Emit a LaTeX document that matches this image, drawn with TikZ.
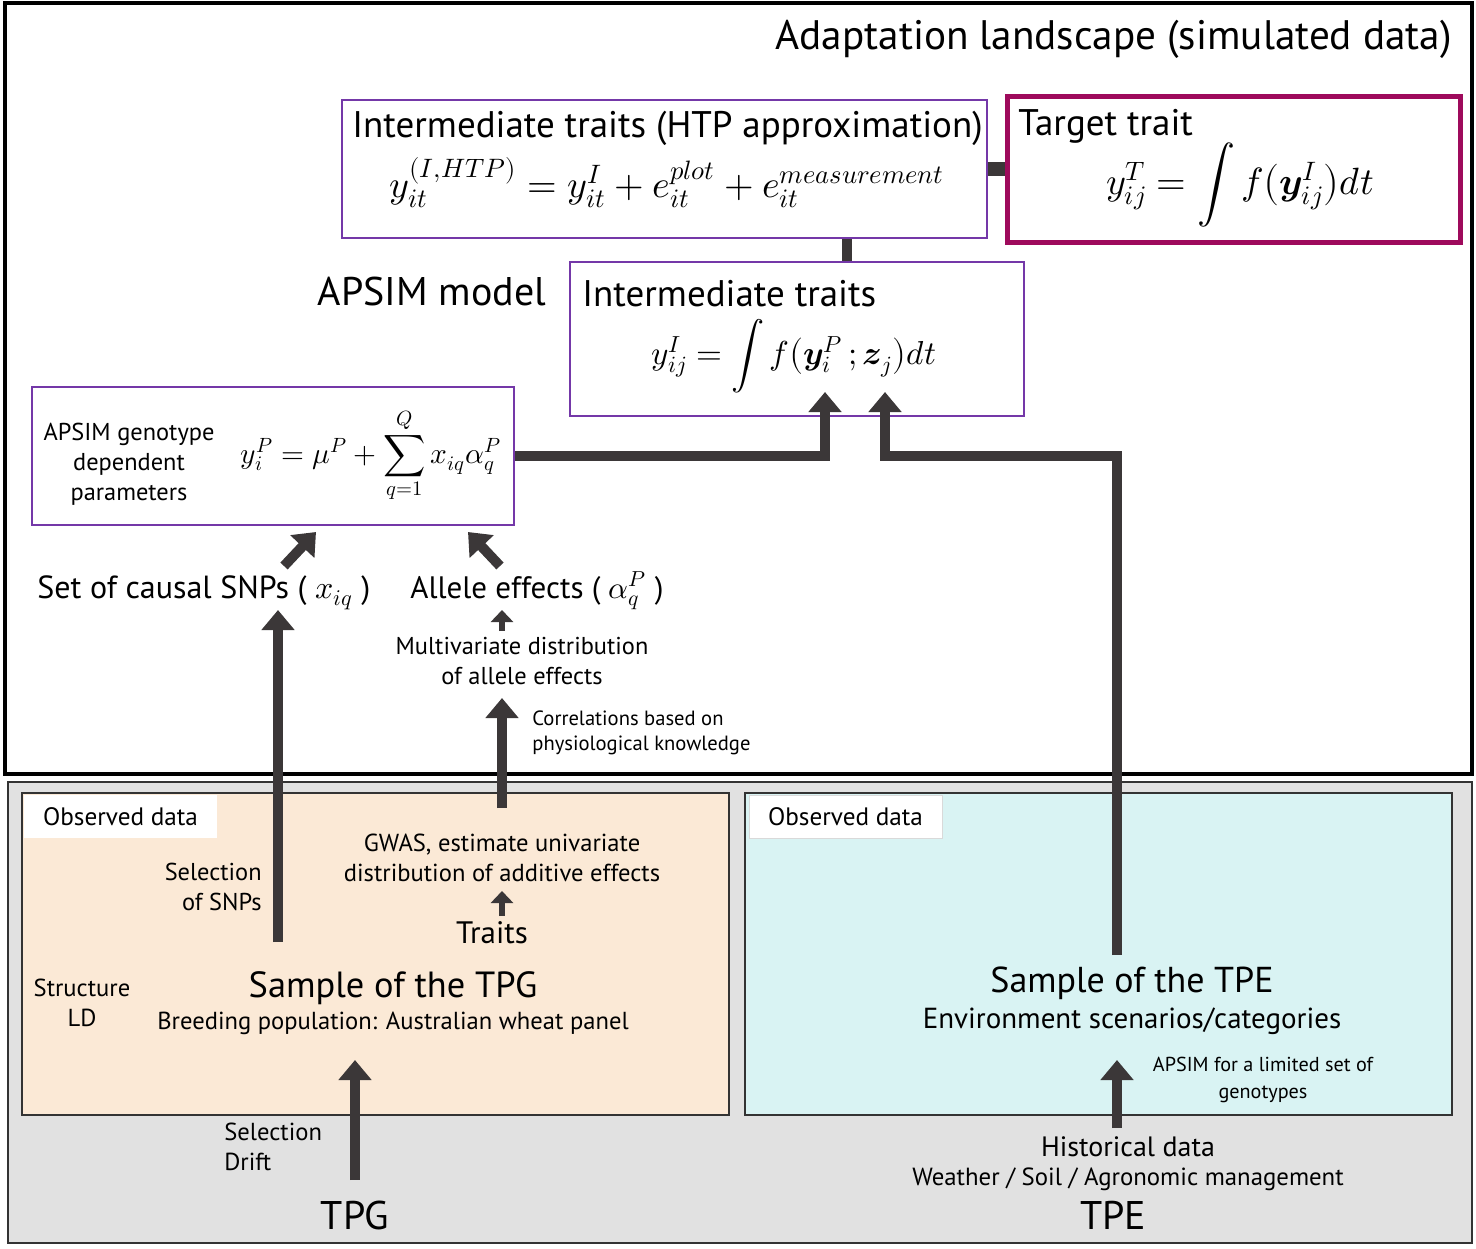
\documentclass[tikz,border=0pt]{standalone}
\usepackage{fontspec}
\usepackage{unicode-math}
\setmainfont{PT Sans}
\setmathfont{Latin Modern Math}
\usetikzlibrary{arrows.meta,fit}
\definecolor{arrowc}{HTML}{3B3738}
\definecolor{boxpurple}{HTML}{7438A8}
\definecolor{targetc}{HTML}{9E0A5C}
\definecolor{beige}{HTML}{FBE9D6}
\definecolor{cyanf}{HTML}{D9F3F3}
\definecolor{grayf}{HTML}{E1E1E1}
\newcommand{\fsz}[1]{\fontsize{#1}{#1}\selectfont}
\tikzset{
  conn/.style={draw=arrowc, line width=5pt},
  bigarrow/.style={conn, -{Triangle[width=16pt,length=10pt]}},
  smallarrow/.style={draw=arrowc, line width=3pt, -{Triangle[width=11pt,length=6pt]}},
  pbox/.style={draw=boxpurple, line width=1pt, inner sep=0pt},
  tbox/.style={draw=targetc, line width=2.5pt, inner sep=0pt},
  databox/.style={draw=black!80, line width=1pt, inner sep=0pt},
  obslabel/.style={fill=white, inner sep=0pt},
  txt/.style={inner sep=0pt, align=center},
}
\begin{document}
\begin{tikzpicture}[x=0.5pt,y=-0.5pt]
\useasboundingbox (0,0) rectangle (1476,1248);
% background regions
\node[fit={(8,782) (1472,1243)}, fill=grayf, draw=black!80, line width=1.2pt, inner sep=0pt] (obsregion) {};
\node[fit={(5,3) (1472,774)}, draw=black, line width=2pt, inner sep=0pt] (simregion) {};
\node[databox, fill=beige, fit={(22,793) (729,1115)}] (tpgbox) {};
\node[databox, fill=cyanf, fit={(745,793) (1452,1115)}] (tpebox) {};
\node[obslabel, fit={(24,795) (217,838)}] (obsl) {};
\node[obslabel, draw=black!15, line width=0.5pt, fit={(749,795) (942,838)}] (obsr) {};
\node[txt, font=\fsz{12.6}] at (obsl.center) {Observed data};
\node[txt, font=\fsz{12.6}] at (obsr.center) {Observed data};
% model boxes
\node[pbox, fill=white, fit={(342,100) (987,238)}] (htp) {};
\node[tbox, fill=white, fit={(1007,96) (1460,242)}] (target) {};
\node[pbox, fill=white, fit={(570,262) (1024,416)}] (interm) {};
\node[pbox, fill=white, fit={(32,387) (514,525)}] (geno) {};
% title
\node[anchor=base east, inner sep=0pt, font=\fsz{20.6}] (title) at (1452,49) {Adaptation landscape (simulated data)};
% texts in boxes
\node[anchor=base west, inner sep=0pt, font=\fsz{18.5}] (htph) at (352,137) {Intermediate traits (HTP approximation)};
\node[txt, font=\fsz{19}] (htpeq) at (667,183) {$y_{it}^{(I,HTP)} = y_{it}^{I} + e_{it}^{plot} + e_{it}^{measurement}$};
\node[anchor=base west, inner sep=0pt, font=\fsz{18.5}] (targeth) at (1018,135) {Target trait};
\node[txt, font=\fsz{19}] (targeteq) at (1240,185) {$\displaystyle y_{ij}^{T} = \int f\big(\symbfit{y}_{ij}^{I}\big)dt$};
\node[anchor=base, inner sep=0pt, font=\fsz{20}] (apsim) at (432,305) {APSIM model};
\node[anchor=base west, inner sep=0pt, font=\fsz{18.5}] (intermh) at (582,306) {Intermediate traits};
\node[txt, font=\fsz{16.6}] (intermeq) at (794,356) {$\displaystyle y_{ij}^{I} = \int f\big(\symbfit{y}_{i}^{P}\,;\symbfit{z}_{j}\big)dt$};
\node[txt, font=\fsz{12.2}, align=center] (genot) at (129,464) {APSIM genotype\\[2.8pt]dependent\\[2.8pt]parameters};
\node[txt, font=\fsz{14.7}] (genoeq) at (371,455) {$\displaystyle y_{i}^{P} = \mu^{P} + \sum_{q=1}^{Q} x_{iq}\alpha_{q}^{P}$};
% simulated inputs
\node[anchor=base west, inner sep=0pt, font=\fsz{16}] (snps) at (37,598) {Set of causal SNPs ( $x_{iq}$ )};
\node[anchor=base west, inner sep=0pt, font=\fsz{15.5}] (allele) at (410,598) {Allele effects ( $\alpha_{q}^{P}$ )};
\node[txt, font=\fsz{12.2}] (multiv) at (522,661) {Multivariate distribution\\[3pt]of allele effects};
\node[txt, font=\fsz{10.3}, align=left, anchor=west] (corr) at (532,733) {Correlations based on\\[2.2pt]physiological knowledge};
% TPG side
\node[txt, font=\fsz{12.2}, align=right, anchor=east] (selsnp) at (262,887) {Selection\\[3pt]of SNPs};
\node[txt, font=\fsz{12.3}] (gwas) at (502,858) {GWAS, estimate univariate\\[3pt]distribution of additive effects};
\node[txt, font=\fsz{15.5}] (traits) at (492,933) {Traits};
\node[txt, font=\fsz{12.3}] (struct) at (82,1003) {Structure\\[2.7pt]LD};
\node[txt, font=\fsz{18.2}] (stpg) at (393,988) {Sample of the TPG};
\node[txt, font=\fsz{12.3}] (breed) at (393,1023) {Breeding population: Australian wheat panel};
\node[txt, font=\fsz{12.3}, align=left, anchor=west] (seldrift) at (224,1147) {Selection\\[2.7pt]Drift};
\node[txt, font=\fsz{20}] (tpg) at (355,1215) {TPG};
% TPE side
\node[txt, font=\fsz{18}] (stpe) at (1132,983) {Sample of the TPE};
\node[txt, font=\fsz{14.5}] (envs) at (1132,1021) {Environment scenarios/categories};
\node[txt, font=\fsz{10.1}] (apsimlim) at (1263,1080) {APSIM for a limited set of\\[3pt]genotypes};
\node[txt, font=\fsz{14}] (hist) at (1128,1147) {Historical data};
\node[txt, font=\fsz{12.4}] (weather) at (1128,1179) {Weather / Soil / Agronomic management};
\node[txt, font=\fsz{20}] (tpe) at (1113,1215) {TPE};
% helper coordinates
\coordinate (c847) at (847,0);
\coordinate (a1) at (825,392);
\coordinate (a2) at (885,392);
\coordinate (tpestart) at (1117,955);
\coordinate (snpstart) at (278,942);
\coordinate (snptip) at (278,610);
\coordinate (alstart) at (502,808);
\coordinate (altip) at (502,698);
\coordinate (mvstart) at (502,631);
\coordinate (mvtip) at (502,610);
\coordinate (trstart) at (502,916);
\coordinate (trtip) at (502,891);
\coordinate (tpgstart) at (355,1180);
\coordinate (tpgtip) at (355,1060);
\coordinate (histstart) at (1117,1128);
\coordinate (histtip) at (1117,1060);
\coordinate (d1s) at (284,566);
\coordinate (d1t) at (316,532);
\coordinate (d2s) at (500,566);
\coordinate (d2t) at (468,532);
% connectors
\draw[draw=arrowc, line width=7pt] (htp.east) -- (target.west);
\draw[conn] (c847 |- htp.south) -- (c847 |- interm.north);
\draw[bigarrow] (geno.east) -| (a1);
\draw[bigarrow] (tpestart) |- (a2 |- geno.east) -- (a2);
\draw[bigarrow] (snpstart) -- (snptip);
\draw[bigarrow] (alstart) -- (altip);
\draw[smallarrow] (mvstart) -- (mvtip);
\draw[smallarrow] (trstart) -- (trtip);
\draw[bigarrow] (tpgstart) -- (tpgtip);
\draw[bigarrow] (histstart) -- (histtip);
\draw[bigarrow] (d1s) -- (d1t);
\draw[bigarrow] (d2s) -- (d2t);
\end{tikzpicture}
\end{document}
